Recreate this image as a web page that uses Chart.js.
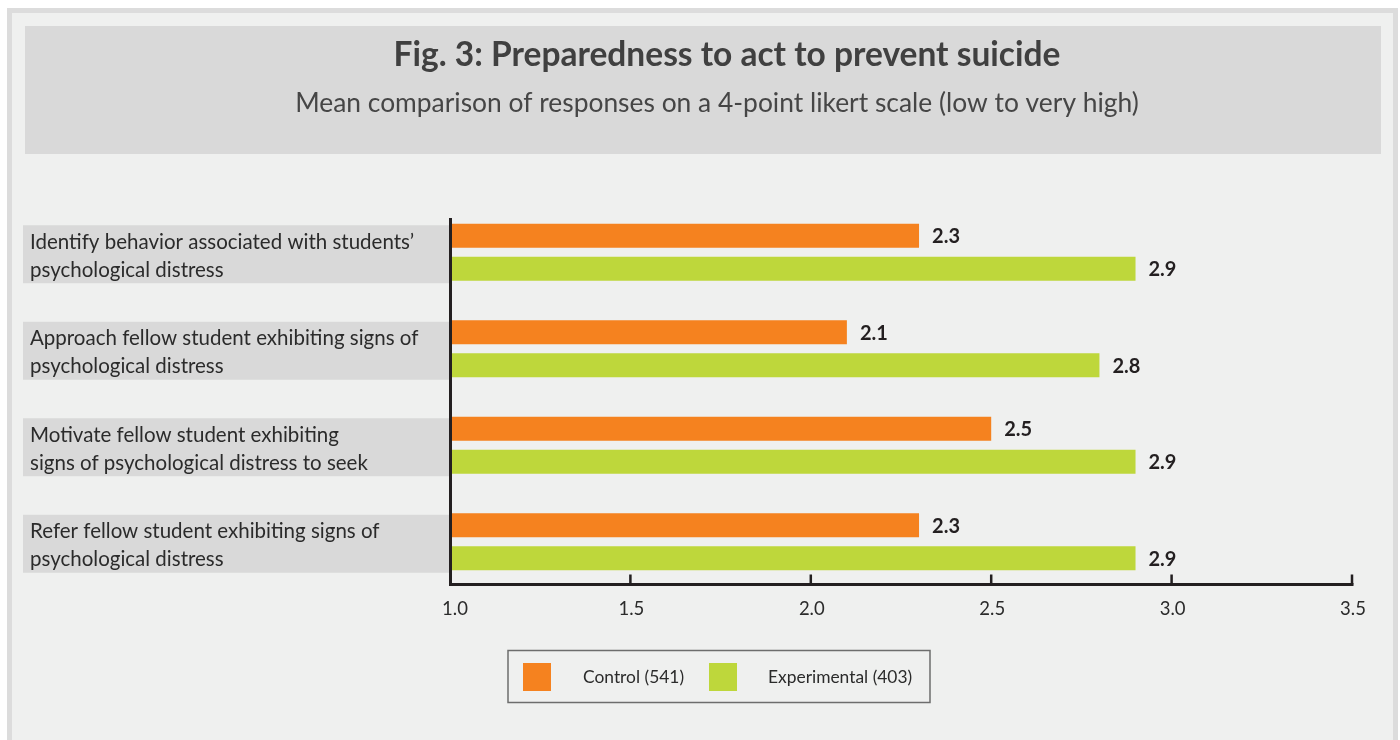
<!DOCTYPE html>
<html>
<head>
<meta charset="utf-8">
<script src="https://cdn.jsdelivr.net/npm/chart.js@4"></script>
<style>
  html, body { margin: 0; padding: 0; background: #ffffff; }
  #wrap { width: 1400px; height: 740px; }
</style>
</head>
<body>
<div id="wrap"><canvas id="fig" width="1400" height="740"></canvas></div>
<script>
// Survey items (each split into the lines shown beside the bars)
const categories = [
  ["Identify behavior associated with students\u2019", "psychological distress"],
  ["Approach fellow student exhibiting signs of", "psychological distress"],
  ["Motivate fellow student exhibiting", "signs of psychological distress to seek"],
  ["Refer fellow student exhibiting signs of", "psychological distress"]
];
const controlMeans = [2.3, 2.1, 2.5, 2.3];
const experimentalMeans = [2.9, 2.8, 2.9, 2.9];
const seriesNames = ["Control (541)", "Experimental (403)"];
const tickValues = [1.0, 1.5, 2.0, 2.5, 3.0, 3.5];
const titleText = "Fig. 3: Preparedness to act to prevent suicide";
const subtitleText = "Mean comparison of responses on a 4-point likert scale (low to very high)";

const ORANGE = "#f5821f";
const GREEN = "#bed73b";
const FONT = "Lato, 'Liberation Sans', sans-serif";

// Frame, title band, item labels, axes, value labels and legend
const decor = {
  id: "decor",
  beforeDraw(chart) {
    const ctx = chart.ctx;
    const W = chart.width, H = chart.height;
    ctx.save();
    ctx.fillStyle = "#ffffff";
    ctx.fillRect(0, 0, W, H);
    ctx.fillStyle = "#dcdcdc";
    ctx.fillRect(7, 8, 1391, H - 8);
    ctx.fillStyle = "#eff0ef";
    ctx.fillRect(12, 13, 1381, H - 13);

    // title band
    ctx.fillStyle = "#d9d9d9";
    ctx.fillRect(25, 26, 1356, 128);
    ctx.fillStyle = "#404040";
    ctx.textAlign = "center";
    ctx.textBaseline = "middle";
    ctx.font = "bold 33.5px " + FONT;
    ctx.fillText(titleText, 727, 55);
    ctx.fillStyle = "#464646";
    ctx.font = "26.4px " + FONT;
    ctx.fillText(subtitleText, 717, 103);

    // item label bands
    const y = chart.scales.y;
    ctx.textAlign = "left";
    ctx.font = "20.5px " + FONT;
    categories.forEach((lines, i) => {
      const cy = y.getPixelForValue(i);
      ctx.fillStyle = "#d9d9d9";
      ctx.fillRect(23, cy - 27, 427, 58);
      ctx.fillStyle = "#2b2b2b";
      lines.forEach((ln, k) => ctx.fillText(ln, 30, cy - 10 + k * 28));
    });
    ctx.restore();
  },
  afterDatasetsDraw(chart) {
    const ctx = chart.ctx;
    const x = chart.scales.x;
    const axisY = 584.5;
    ctx.save();
    ctx.strokeStyle = "#231f20";
    ctx.lineWidth = 3;
    ctx.beginPath();
    ctx.moveTo(x.getPixelForValue(1.0) + 0.5, 218);
    ctx.lineTo(x.getPixelForValue(1.0) + 0.5, axisY + 1.5);
    ctx.moveTo(x.getPixelForValue(1.0) - 1, axisY);
    ctx.lineTo(x.getPixelForValue(3.5) + 1.5, axisY);
    ctx.stroke();
    ctx.lineWidth = 2.5;
    ctx.beginPath();
    tickValues.slice(1).forEach(v => {
      const px = x.getPixelForValue(v);
      ctx.moveTo(px, axisY);
      ctx.lineTo(px, axisY - 10);
    });
    ctx.stroke();

    // tick labels
    ctx.fillStyle = "#2b2b2b";
    ctx.font = "18.5px " + FONT;
    ctx.textAlign = "center";
    ctx.textBaseline = "middle";
    tickValues.forEach(v => {
      ctx.fillText(v.toFixed(1), x.getPixelForValue(v) + (v === 1.0 ? 5 : 1), 609);
    });

    // value labels beside each bar
    ctx.font = "bold 20px " + FONT;
    ctx.textAlign = "left";
    ctx.fillStyle = "#231f20";
    chart.data.datasets.forEach((ds, di) => {
      chart.getDatasetMeta(di).data.forEach((bar, j) => {
        ctx.fillText(ds.data[j].toFixed(1), bar.x + 13, bar.y + 1);
      });
    });

    // legend
    ctx.strokeStyle = "#6d6d6d";
    ctx.lineWidth = 1.5;
    ctx.strokeRect(508, 650.5, 422, 52);
    ctx.font = "17.4px " + FONT;
    const swatchX = [523, 709];
    const textX = [583, 768];
    chart.data.datasets.forEach((ds, di) => {
      ctx.fillStyle = ds.backgroundColor;
      ctx.fillRect(swatchX[di], 663, 28, 28);
      ctx.fillStyle = "#2b2b2b";
      ctx.fillText(ds.label, textX[di], 677);
    });
    ctx.restore();
  }
};

new Chart(document.getElementById("fig"), {
  type: "bar",
  data: {
    labels: categories.map(l => l.join(" ")),
    datasets: [
      { label: seriesNames[0], data: controlMeans, backgroundColor: ORANGE },
      { label: seriesNames[1], data: experimentalMeans, backgroundColor: GREEN }
    ]
  },
  options: {
    indexAxis: "y",
    responsive: false,
    animation: false,
    devicePixelRatio: 1,
    layout: { padding: { left: 450, right: 48, top: 204, bottom: 150 } },
    datasets: { bar: { categoryPercentage: 0.684, barPercentage: 0.727, base: 1.0 } },
    scales: {
      x: { type: "linear", min: 1.0, max: 3.5, display: false },
      y: { type: "category", display: false }
    },
    plugins: {
      legend: { display: false },
      tooltip: { enabled: false },
      title: { display: false }
    }
  },
  plugins: [decor]
});
</script>
</body>
</html>
